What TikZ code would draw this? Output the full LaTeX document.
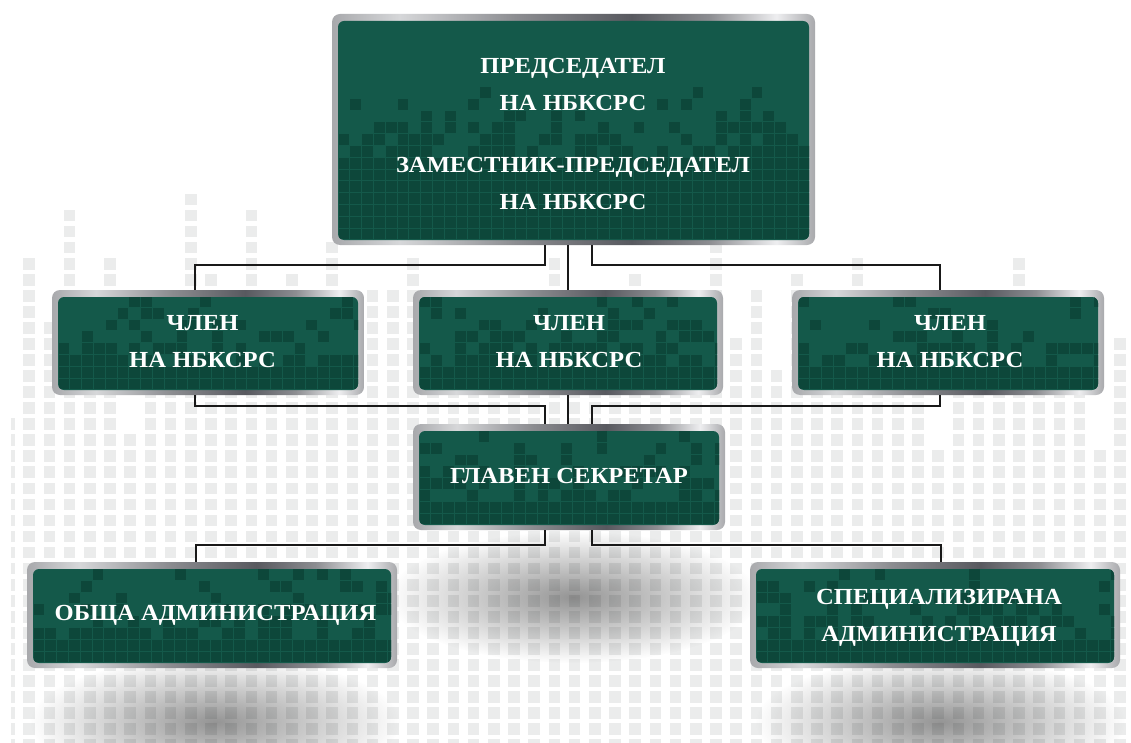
\documentclass[tikz,border=0pt]{standalone}
\usepackage{fontspec}
\setmainfont{Liberation Serif}[FakeStretch=1.07]
\usetikzlibrary{fadings}
\definecolor{boxgreen}{RGB}{20,89,74}
\definecolor{boxdark}{RGB}{13,71,58}
\definecolor{bgsq}{RGB}{235,236,236}
\definecolor{mA}{RGB}{168,169,172}
\definecolor{mB}{RGB}{214,215,217}
\definecolor{mC}{RGB}{140,141,145}
\definecolor{mD}{RGB}{88,89,95}
\definecolor{mE}{RGB}{238,238,240}
\pgfdeclarehorizontalshading{metal}{100bp}{color(0bp)=(mA); color(25bp)=(mA); color(32bp)=(mB); color(44bp)=(mC); color(56bp)=(mD); color(64bp)=(mC); color(71bp)=(mE); color(75bp)=(mA); color(100bp)=(mA)}
\tikzfading[name=shfade, inner color=transparent!0, outer color=transparent!100]
\newcommand{\greenbox}[7]{%
  \shade[shading=metal, rounded corners=8pt] (#2,#3) rectangle (#4,#5);
  \begin{scope}
    \clip[rounded corners=6pt] ({#2+6},{#3+7}) rectangle ({#4-6},{#5-5});
    \fill[boxgreen] (#2,#3) rectangle (#4,#5);
    \pgfmathtruncatemacro\ncol{(#4-#2-12)/11.8}
    \foreach \cc in {0,...,\ncol}{
      \foreach \rr in {0,...,#7}{
        \pgfmathsetmacro\pp{\rr<#6 ? 1 : 0.68*0.74^(\rr-#6)}
        \pgfmathtruncatemacro\hit{rnd<\pp}
        \ifnum\hit=1
          \fill[boxdark] ({#2+6+0.6+11.8*\cc},{#5-5-0.6-11.8*\rr}) rectangle ++(10.8,-10.8);
        \fi
      }
    }
  \end{scope}
  \node[inner sep=0pt, outer sep=0pt, minimum width={(#4-#2)*1pt}, minimum height={(#5-#3)*1pt}] (#1) at ({(#2+#4)/2},{(#3+#5)/2}) {};
}
\tikzset{
  lbl/.style={text=white, font=\bfseries\fontsize{23}{37.5}\selectfont, align=center, anchor=base, inner sep=0pt},
  conn/.style={draw=black!90, line width=1.4pt}
}
\begin{document}
\begin{tikzpicture}[x=1pt,y=-1pt]
\useasboundingbox (0,0) rectangle (1131,743);
\clip (0,0) rectangle (1131,743);
\fill[white] (0,0) rectangle (1131,743);
\pgfmathsetseed{4711}
% background equalizer squares
\foreach \t [count=\k from 0] in {30,26,33,26,30,19,24,23,34,29,24,33,25,29,22,31,22,28,28,30,24,27,23,26,22,25,30,26,24,27,29,23,26,24,31,25,28,23,29,25,27,30,24,28,26,18,27,25,26,30,24,27,26,18,25}{
  \foreach \m in {0,...,\t}{
    \fill[bgsq] ({23.3+20.2*\k},{739.3-16.05*\m}) rectangle ++(11.7,11.7);
  }
}
\foreach \m in {0,...,20}{
  \fill[bgsq] (11,{739.3-16.05*\m}) rectangle ++(4,11.7);
}
% shadows
\fill[black, opacity=0.42, path fading=shfade] (573,597) ellipse [x radius=185, y radius=66];
\fill[black, opacity=0.42, path fading=shfade] (215,722) ellipse [x radius=185, y radius=66];
\fill[black, opacity=0.42, path fading=shfade] (940,722) ellipse [x radius=185, y radius=66];
% boxes
\greenbox{top}{332}{14}{815}{245}{7}{12}
\greenbox{m1}{52}{290}{364}{395}{2}{8}
\greenbox{m2}{413}{290}{723}{395}{2}{8}
\greenbox{m3}{792}{290}{1104}{395}{2}{8}
\greenbox{sec}{413}{424}{725}{530}{2}{8}
\greenbox{bl}{27}{562}{397}{668}{2}{8}
\greenbox{br}{750}{562}{1120}{668}{2}{8}
% connectors
\draw[conn] ([xshift=-28.5pt]top.south) -- ++(0,20) -| ([xshift=-13pt]m1.north);
\draw[conn] ([xshift=-5.5pt]top.south) -- (m2.north);
\draw[conn] ([xshift=18.5pt]top.south) -- ++(0,20) -| ([xshift=-8pt]m3.north);
\draw[conn] ([xshift=-13pt]m1.south) -- ++(0,11) -| ([xshift=-24pt]sec.north);
\draw[conn] (m2.south) -- ([xshift=-1pt]sec.north);
\draw[conn] ([xshift=-8pt]m3.south) -- ++(0,11) -| ([xshift=23pt]sec.north);
\draw[conn] ([xshift=-24pt]sec.south) -- ++(0,15) -| ([xshift=-16pt]bl.north);
\draw[conn] ([xshift=23pt]sec.south) -- ++(0,15) -| ([xshift=6pt]br.north);
% texts (anchor=base is the last line's baseline)
\node[lbl] (tTop) at (573,210) {ПРЕДСЕДАТЕЛ\\НА НБКСРС\\[24pt]ЗАМЕСТНИК-ПРЕДСЕДАТЕЛ\\НА НБКСРС};
\node[lbl] (tM1) at (202.5,367.7) {ЧЛЕН\\НА НБКСРС};
\node[lbl] (tM2) at (569,367.7) {ЧЛЕН\\НА НБКСРС};
\node[lbl] (tM3) at (950,367.7) {ЧЛЕН\\НА НБКСРС};
\node[lbl] (tSec) at (569,483.3) {ГЛАВЕН СЕКРЕТАР};
\node[lbl] (tBL) at (215.5,620) {ОБЩА АДМИНИСТРАЦИЯ};
\node[lbl] (tBR) at (939,641.7) {СПЕЦИАЛИЗИРАНА\\АДМИНИСТРАЦИЯ};
\end{tikzpicture}
\end{document}
